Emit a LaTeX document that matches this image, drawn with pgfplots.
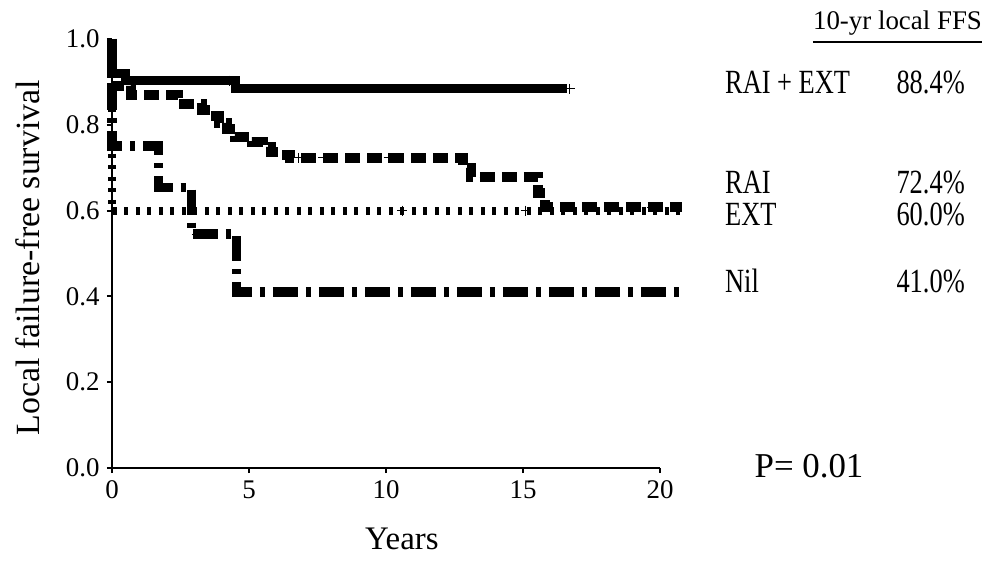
\documentclass[border=0pt]{standalone}
\usepackage{pgfplots}
\pgfplotsset{compat=1.18}
\usepackage{fontspec}
\setmainfont{Liberation Serif}
\usepackage{graphicx}
\begin{document}
\begin{tikzpicture}
\useasboundingbox (-112bp,-93bp) rectangle (878bp,468bp);
\begin{axis}[
  at={(0,0)}, anchor=south west,
  scale only axis, width=548bp, height=429bp,
  xmin=0, xmax=20, ymin=0, ymax=1,
  axis x line*=bottom, axis y line*=left,
  axis line style={line width=2.5bp},
  xtick={0,5,10,15,20}, ytick={0,0.2,0.4,0.6,0.8,1.0},
  tick align=outside, major tick length=5bp,
  tick style={line width=2bp, black},
  /pgf/number format/assume math mode=true,
  yticklabel style={/pgf/number format/fixed, /pgf/number format/fixed zerofill, /pgf/number format/precision=1, xshift=-4bp},
  tick label style={font=\fontsize{27}{27}\selectfont},
  xticklabel style={yshift=-4bp},
  clip=false,
]
% EXT (dotted)
\addplot[const plot, black, line width=8bp, dash pattern=on 4bp off 7.5bp] coordinates {
  (0,1.0) (0,0.60) (20.8,0.60)
};
% Nil (dash-dot)
\addplot[const plot, black, line width=9.5bp, dash pattern=on 25bp off 8bp on 5bp off 8bp] coordinates {
  (0,1.0) (0,0.751) (1.7,0.654) (2.9,0.545) (4.55,0.41) (20.8,0.41)
};
% RAI (dashed)
\addplot[const plot, black, line width=10bp, dash pattern=on 15bp off 7bp] coordinates {
  (0,1.0) (0,0.89) (0.7,0.87) (2.4,0.849) (3.3,0.835) (3.6,0.82) (3.9,0.805)
  (4.2,0.79) (4.5,0.772) (5.1,0.76) (5.5,0.748) (5.8,0.737) (6.1,0.73)
  (6.5,0.723) (12.8,0.70) (13.1,0.678) (15.55,0.64) (15.8,0.608) (20.8,0.608)
};
% RAI + EXT (solid)
\addplot[const plot, black, line width=9bp] coordinates {
  (0,1.0) (0,0.92) (0.5,0.903) (4.5,0.884) (16.6,0.884)
};
% censoring marks
\addplot[only marks, mark=+, mark size=5bp, black, line width=0.8bp] coordinates {
  (16.7,0.884) (4.3,0.903)
  (3.28,0.849) (6.8,0.723) (7.7,0.723) (10.1,0.723) (13.6,0.678) (15.4,0.678) (16.8,0.608) (19.7,0.608)
  (10.6,0.60) (15.1,0.60)
  (3.1,0.545) (4.7,0.41)
};
% labels
\node[rotate=90, anchor=center, font=\fontsize{34}{34}\selectfont] at (rel axis cs:-0.153,0.49) {Local failure-free survival};
\node[anchor=base, font=\fontsize{33}{33}\selectfont] at (axis cs:10.58,-0.191) {Years};
\node[anchor=base, font=\fontsize{35}{35}\selectfont] at (axis cs:25.44,-0.023) {P= 0.01};
\node[anchor=base west, inner sep=0pt, font=\fontsize{27}{27}\selectfont] (hdr) at (axis cs:25.58,1.021) {10-yr local FFS};
\draw[line width=1.2bp] ([yshift=-12bp]hdr.base west) -- ([yshift=-12bp]hdr.base east);
\node[anchor=base west, inner sep=0pt, font=\fontsize{34}{34}\selectfont] at (axis cs:22.37,0.874) {\scalebox{0.78}[1]{RAI + EXT}};
\node[anchor=base east, inner sep=0pt, font=\fontsize{34}{34}\selectfont] at (axis cs:31.13,0.874) {\scalebox{0.78}[1]{88.4\%}};
\node[anchor=base west, inner sep=0pt, font=\fontsize{34}{34}\selectfont] at (axis cs:22.37,0.641) {\scalebox{0.78}[1]{RAI}};
\node[anchor=base east, inner sep=0pt, font=\fontsize{34}{34}\selectfont] at (axis cs:31.13,0.641) {\scalebox{0.78}[1]{72.4\%}};
\node[anchor=base west, inner sep=0pt, font=\fontsize{34}{34}\selectfont] at (axis cs:22.37,0.566) {\scalebox{0.78}[1]{EXT}};
\node[anchor=base east, inner sep=0pt, font=\fontsize{34}{34}\selectfont] at (axis cs:31.13,0.566) {\scalebox{0.78}[1]{60.0\%}};
\node[anchor=base west, inner sep=0pt, font=\fontsize{34}{34}\selectfont] at (axis cs:22.37,0.410) {\scalebox{0.78}[1]{Nil}};
\node[anchor=base east, inner sep=0pt, font=\fontsize{34}{34}\selectfont] at (axis cs:31.13,0.410) {\scalebox{0.78}[1]{41.0\%}};
\end{axis}
\end{tikzpicture}
\end{document}
